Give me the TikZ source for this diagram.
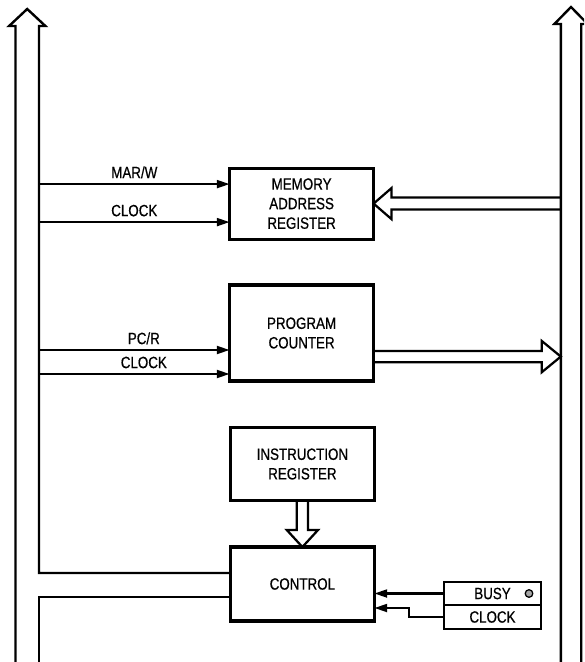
\documentclass[tikz,border=0pt]{standalone}
\usepackage{fontspec}
\setmainfont{Liberation Sans}[FakeStretch=0.82,FakeBold=0.6]
\usetikzlibrary{positioning,arrows.meta,calc}

\begin{document}
\begin{tikzpicture}[
    >={Triangle[length=3.2mm,width=2mm]},
    font=\fontsize{11.6}{13.9}\selectfont,
    box/.style={
        draw=black,
        line width=2.2pt,
        outer sep=0pt,
        minimum width=3.6cm,
        align=center
    },
    flag/.style={
        draw=black,
        line width=1.8pt,
        outer sep=0pt,
        minimum width=2.425cm,
        align=center
    },
    bus/.style={line width=1.7pt},
    fat/.style={line width=1.6pt},
    sig/.style={->, line width=1.5pt}
]

\clip (0,0) rectangle (14.6,-16.55);

\node[box, minimum height=1.775cm] (mar) at (7.54,-5.09)
{MEMORY\\ADDRESS\\REGISTER};

\node[box, minimum height=2.4cm] (pc) at (7.54,-8.325)
{PROGRAM\\COUNTER};

\node[box, minimum height=1.825cm] (ir) at (7.56,-11.6)
{INSTRUCTION\\REGISTER};

\node[box, minimum height=1.85cm] (ctl) at (7.56,-14.6)
{CONTROL};

\node[flag, minimum height=0.575cm] (busy) at (12.3125,-14.8375) {BUSY};
\node[flag, minimum height=0.6cm, below=0pt of busy] (clk) {CLOCK};
\node[circle, draw, fill=gray!70, line width=0.9pt, inner sep=0pt,
      minimum size=0.19cm] (led) at ([xshift=-0.3cm]busy.east) {};

% buses
\coordinate (lb) at (0.975,0);
\coordinate (rb) at (14.02,0);

\draw[bus] (0.3875,-16.6) -- (0.3875,-0.65) -- (0.2275,-0.65) -- (0.68,-0.225)
    -- (1.135,-0.65) -- (0.975,-0.65) |- ([yshift=0.275cm]ctl.west);
\draw[bus] ([yshift=-0.325cm]ctl.west) -| (0.975,-16.6);

\draw[bus] (14.02,-16.6) -- (14.02,-0.6) -- (13.86,-0.6) -- (14.275,-0.175)
    -- (14.69,-0.6) -- (14.53,-0.6) -- (14.53,-16.6);

% control lines
\coordinate (marw) at ([yshift=0.4875cm]mar.west);
\coordinate (marc) at ([yshift=-0.4625cm]mar.west);
\coordinate (pcr) at ([yshift=-0.425cm]pc.west);
\coordinate (pcc) at ([yshift=-1.025cm]pc.west);

\draw[sig] (lb |- marw) -- node[above] {MAR/W} (marw);
\draw[sig] (lb |- marc) -- node[above] {CLOCK} (marc);
\draw[sig] (lb |- pcr) -- node[above, pos=0.55] {PC/R} (pcr);
\draw[sig] (lb |- pcc) -- node[above, pos=0.55] {CLOCK} (pcc);

\draw[sig] (busy.west) -- (busy.west -| ctl.east);
\draw[sig] (clk.west) -- ++(-0.875,0) |- ([yshift=-0.6cm]ctl.east);

% wide transfers
\draw[fat] ($(mar.east -| rb)+(0,0.15)$) -- ($(mar.east)+(0.45,0.15)$) -- ++(0,0.24)
    -- (mar.east) -- ++(0.45,-0.39) -- ++(0,0.24) -- ($(mar.east -| rb)+(0,-0.15)$);

\coordinate (pco) at ([yshift=-0.59cm]pc.east);
\draw[fat] ($(pco)+(0,0.14)$) -- ($(pco -| rb)+(-0.475,0.14)$) -- ++(0,0.25)
    -- (pco -| rb) -- ++(-0.475,-0.39) -- ++(0,0.25) -- ($(pco)+(0,-0.14)$);

\draw[fat] ($(ir.south)+(-0.14,0)$) -- ($(ctl.north)+(-0.14,0.425)$) -- ++(-0.25,0)
    -- (ctl.north) -- ++(0.39,0.425) -- ++(-0.25,0) -- ($(ir.south)+(0.14,0)$);

\end{tikzpicture}
\end{document}
